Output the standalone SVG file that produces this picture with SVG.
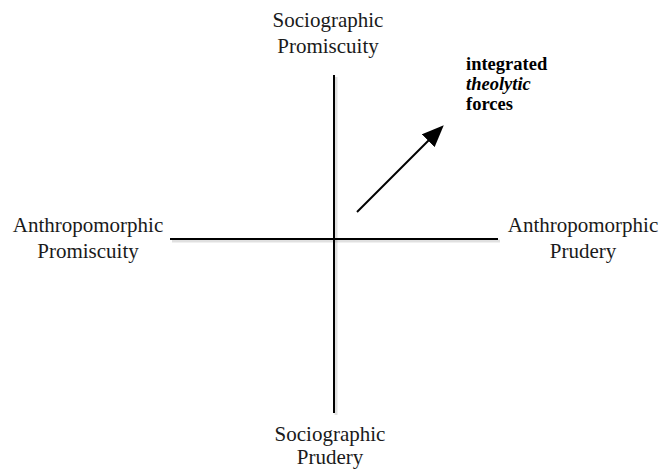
<svg xmlns="http://www.w3.org/2000/svg" width="659" height="471" viewBox="0 0 659 471">
<style>
.lbl{font-family:"Liberation Serif","Times New Roman",serif;font-size:21px;fill:#1a1a1a;text-anchor:middle}
.b{font-family:"Liberation Serif","Times New Roman",serif;font-size:18.5px;font-weight:bold;fill:#000}
.ax{stroke:#000;stroke-width:2;fill:none}
.sh{stroke:#000;stroke-opacity:0.12;stroke-width:3;fill:none}
</style>
<defs>
<marker id="ah" viewBox="0 0 22 18" refX="11" refY="9" markerWidth="22" markerHeight="18" orient="auto" markerUnits="userSpaceOnUse">
<path d="M0,0 L22,9 L0,18 z" fill="#000"/>
</marker>
</defs>
<rect width="659" height="471" fill="#fff"/>
<g id="connectors">
<line class="sh" x1="336" y1="77" x2="336" y2="415"/>
<line class="sh" x1="172" y1="241" x2="500" y2="241"/>
<line class="ax" x1="334" y1="75" x2="334" y2="413"/>
<line class="ax" x1="170" y1="239" x2="498" y2="239"/>
<line class="ax" x1="357" y1="212" x2="436" y2="133" marker-end="url(#ah)"/>
</g>
<g id="top"><text class="lbl" x="328" y="27">Sociographic</text><text class="lbl" x="328" y="53">Promiscuity</text></g>
<g id="left"><text class="lbl" x="88" y="232">Anthropomorphic</text><text class="lbl" x="88" y="258">Promiscuity</text></g>
<g id="right"><text class="lbl" x="583" y="232">Anthropomorphic</text><text class="lbl" x="583" y="258">Prudery</text></g>
<g id="bottom"><text class="lbl" x="330" y="441">Sociographic</text><text class="lbl" x="330" y="464">Prudery</text></g>
<g id="forces"><text class="b" x="466" y="70">integrated</text><text class="b" x="466" y="90" font-style="italic">theolytic</text><text class="b" x="466" y="110">forces</text></g>
</svg>
